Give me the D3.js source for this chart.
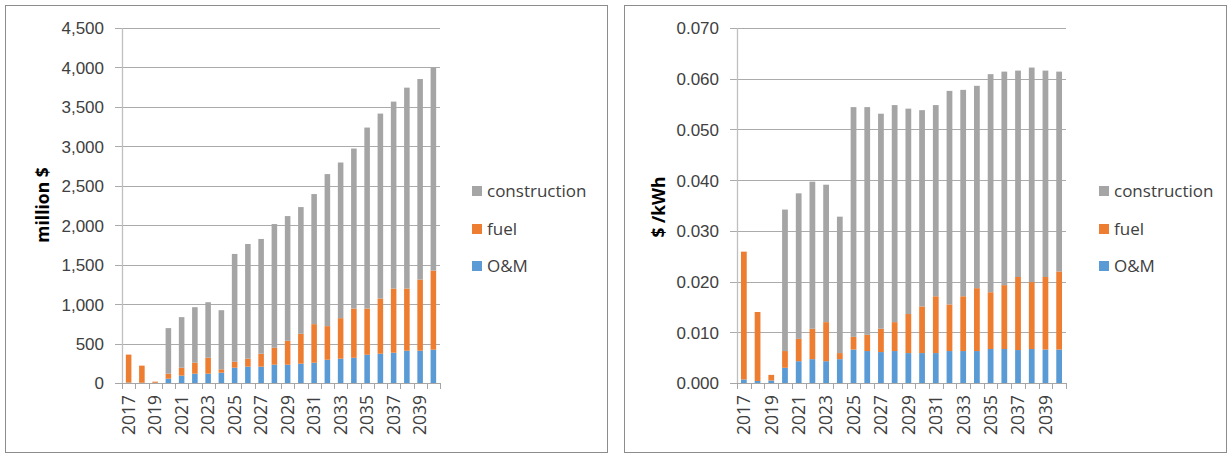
<!DOCTYPE html>
<html>
<head>
<meta charset="utf-8">
<script src="https://cdn.jsdelivr.net/npm/d3@7"></script>
<style>
  html, body { margin: 0; padding: 0; background: #ffffff; }
  svg { display: block; font-family: "Open Sans", "Liberation Sans", sans-serif; }
</style>
</head>
<body>
<svg id="chart" width="1227" height="453"></svg>
<script>
// Years on the category axis
const years = d3.range(2017, 2041).map(String);

// Annual cost, million $
const costOM = [5, 3, 3, 55, 93, 118, 118, 131, 194, 207, 207, 232, 232, 245, 257, 295, 308, 320, 358, 371, 384, 409, 409, 422];
const costFuel = [355, 217, 14, 63, 101, 139, 202, 42, 76, 101, 164, 215, 303, 379, 489, 426, 514, 624, 586, 700, 813, 788, 902, 1003];
const costConstruction = [0, 0, 0, 578, 641, 704, 704, 750, 1366, 1454, 1455, 1568, 1581, 1606, 1649, 1927, 1973, 2028, 2294, 2344, 2370, 2547, 2542, 2572];

// Unit cost, $ per kWh
const unitOM = [0.0007, 0.0004, 0.0005, 0.0030, 0.0043, 0.0047, 0.0043, 0.0047, 0.0066, 0.0063, 0.0061, 0.0063, 0.0059, 0.0059, 0.0059, 0.0063, 0.0063, 0.0063, 0.0067, 0.0067, 0.0065, 0.0067, 0.0066, 0.0066];
const unitFuel = [0.0252, 0.0136, 0.0011, 0.0033, 0.0044, 0.0060, 0.0077, 0.0012, 0.0025, 0.0032, 0.0046, 0.0057, 0.0077, 0.0092, 0.0112, 0.0092, 0.0108, 0.0124, 0.0112, 0.0126, 0.0144, 0.0132, 0.0143, 0.0154];
const unitConstruction = [0, 0, 0, 0.0279, 0.0287, 0.0290, 0.0271, 0.0269, 0.0453, 0.0449, 0.0424, 0.0428, 0.0405, 0.0387, 0.0377, 0.0421, 0.0407, 0.0399, 0.0430, 0.0421, 0.0407, 0.0423, 0.0407, 0.0394];

// Legend / series order (legend lists top of stack first)
const seriesNames = ["construction", "fuel", "O&M"];
const seriesColors = { "construction": "#a5a5a5", "fuel": "#ed7d31", "O&M": "#5b9bd5" };

// Y-axis tick values
const costTicks = d3.range(0, 4501, 500);
const unitTicks = [0, 0.01, 0.02, 0.03, 0.04, 0.05, 0.06, 0.07];

const svg = d3.select("#chart");
const textColor = "#404040";

function drawPanel(opts) {
  const g = svg.append("g");

  // Panel frame
  g.append("rect")
    .attr("x", opts.frame[0] + 0.5).attr("y", opts.frame[1] + 0.5)
    .attr("width", opts.frame[2]).attr("height", opts.frame[3])
    .attr("fill", "#fff").attr("stroke", "#8c8c8c").attr("stroke-width", 1);

  const x = d3.scaleBand().domain(years).range([opts.left, opts.right]).paddingInner(0.58).paddingOuter(0.29);
  const y = d3.scaleLinear().domain([0, opts.max]).range([opts.bottom, opts.top]);

  // Horizontal gridlines with short outside ticks
  const yAxis = d3.axisLeft(y).tickValues(opts.ticks).tickFormat(opts.format)
    .tickSize(-(opts.right - opts.left)).tickPadding(0);
  const ya = g.append("g").attr("transform", `translate(${opts.left},0)`).call(yAxis);
  ya.select(".domain").remove();
  ya.selectAll(".tick line").attr("stroke", "#ababab").attr("x1", -7)
    .attr("shape-rendering", "crispEdges");
  ya.selectAll(".tick text").attr("x", -18).attr("fill", textColor)
    .attr("font-size", 17).attr("dy", "0.35em");

  // Stacked bars
  const rows = years.map((yr, i) => ({
    year: yr, "O&M": opts.om[i], "fuel": opts.fuel[i], "construction": opts.construction[i]
  }));
  const stack = d3.stack().keys(["O&M", "fuel", "construction"])(rows);
  g.append("g").selectAll("g").data(stack).join("g")
    .attr("fill", d => seriesColors[d.key])
    .selectAll("rect").data(d => d).join("rect")
    .attr("x", d => x(d.data.year))
    .attr("width", x.bandwidth())
    .attr("y", d => y(d[1]))
    .attr("height", d => Math.max(0, y(d[0]) - y(d[1])));

  // Vertical axis line
  g.append("line")
    .attr("x1", opts.left + 0.5).attr("x2", opts.left + 0.5)
    .attr("y1", opts.top).attr("y2", opts.bottom)
    .attr("stroke", "#bfbfbf").attr("stroke-width", 1.3);

  // Category axis: line, boundary ticks, rotated year labels
  const xa = g.append("g");
  xa.append("line")
    .attr("x1", opts.left - 7).attr("x2", opts.right)
    .attr("y1", opts.bottom + 0.5).attr("y2", opts.bottom + 0.5)
    .attr("stroke", "#a6a6a6");
  const step = x.step();
  const bounds = d3.range(years.length + 1).map(i => opts.left + i * step);
  xa.selectAll("line.cat").data(bounds).join("line").attr("class", "cat")
    .attr("x1", d => Math.round(d) + 0.5).attr("x2", d => Math.round(d) + 0.5)
    .attr("y1", opts.bottom).attr("y2", opts.bottom + 6)
    .attr("stroke", "#a6a6a6");
  xa.selectAll("text").data(years.filter((d, i) => i % 2 === 0)).join("text")
    .attr("transform", d => `translate(${x(d) + x.bandwidth() / 2},${opts.bottom + 12}) rotate(-90)`)
    .attr("text-anchor", "end").attr("dy", "0.36em")
    .attr("font-size", 17.5).attr("fill", textColor)
    .text(d => d);

  // Y-axis title
  g.append("text")
    .attr("transform", `translate(${opts.titleX},${opts.titleY}) rotate(-90)`)
    .attr("text-anchor", "middle").attr("dy", "0.35em")
    .attr("font-size", 17.5).attr("font-weight", "bold").attr("fill", "#000")
    .text(opts.title);

  // Legend
  const lg = g.append("g").attr("transform", `translate(${opts.legendX},0)`);
  const legendY = [191, 229, 266];
  seriesNames.forEach((name, i) => {
    lg.append("rect").attr("x", 0).attr("y", legendY[i] - 5).attr("width", 10).attr("height", 10)
      .attr("fill", seriesColors[name]);
    lg.append("text").attr("x", 15).attr("y", legendY[i]).attr("dy", "0.35em")
      .attr("font-size", 17).attr("fill", textColor).text(name);
  });
}

drawPanel({
  frame: [5, 5, 602, 447],
  left: 122, right: 440, top: 28, bottom: 383,
  max: 4500, ticks: costTicks, format: d3.format(","),
  om: costOM, fuel: costFuel, construction: costConstruction,
  title: "million $", titleX: 43, titleY: 205,
  legendX: 472
});

drawPanel({
  frame: [624, 5, 602, 447],
  left: 737, right: 1066, top: 28, bottom: 383,
  max: 0.07, ticks: unitTicks, format: d3.format(".3f"),
  om: unitOM, fuel: unitFuel, construction: unitConstruction,
  title: "$ /kWh", titleX: 659, titleY: 207,
  legendX: 1099
});
</script>
</body>
</html>
